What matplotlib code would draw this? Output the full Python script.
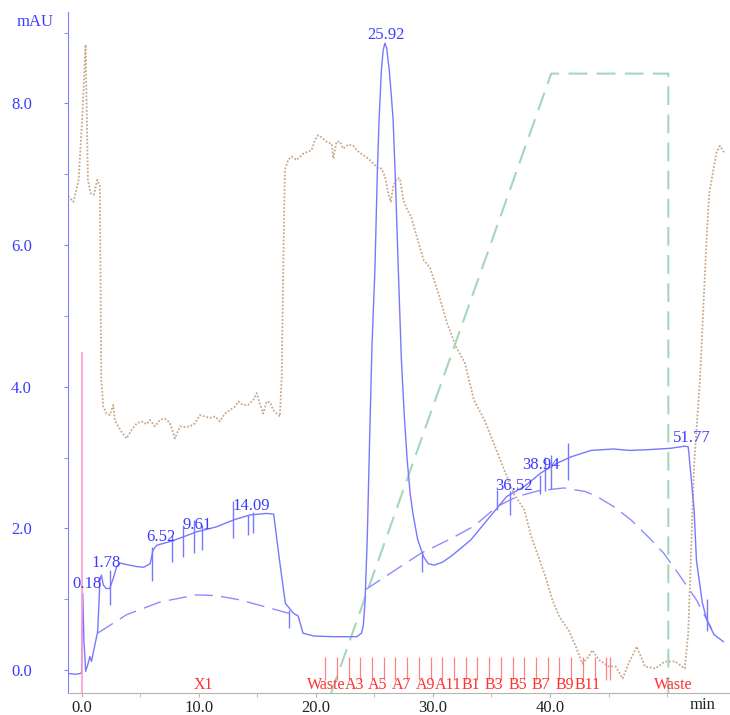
import numpy as np
import matplotlib
matplotlib.use("Agg")
import matplotlib.pyplot as plt

plt.rcParams['font.family'] = ['Liberation Serif', 'DejaVu Serif']

# UV trace (mAU)
uv_t = [-1.15, -0.5, -0.1, 0.0, 0.1, 0.2, 0.35, 0.57, 0.71, 0.85, 0.99, 1.22, 1.37, 1.5, 1.56,
        1.7, 1.85, 2.1, 2.4, 2.7, 3.0, 3.3, 3.8, 4.7, 5.3, 5.85, 6.1, 6.4, 7.5, 8.7, 9.8,
        11.5, 13.0, 14.4, 15.8, 16.4, 16.9, 17.4, 18.1, 18.5, 18.9, 19.8, 21.5, 23.5, 23.9,
        24.05, 24.2, 24.4, 24.6, 24.8, 25.05, 25.25, 25.4, 25.6, 25.75, 25.9, 26.05, 26.27,
        26.45, 26.6, 26.8, 27.04, 27.3, 27.55, 27.8, 28.05, 28.3, 28.7,
        29.2, 29.6, 30.1, 30.8, 31.5, 32.4, 33.25, 34.4, 35.5, 36.3, 37.8, 39.2, 40.6, 41.8,
        43.5, 45.4, 46.8, 48.3, 50.3, 51.5, 51.8, 52.0, 52.3, 52.5, 53.0, 53.4, 54.0, 54.8]
uv_v = [-0.05, -0.06, -0.05, -0.03, 1.08, 0.42, -0.02, 0.1, 0.19, 0.12, 0.24, 0.42, 0.54, 0.99, 1.27,
        1.34, 1.2, 1.15, 1.15, 1.29, 1.46, 1.51, 1.49, 1.46, 1.45, 1.50, 1.69, 1.76, 1.81, 1.88, 1.95,
        2.02, 2.12, 2.19, 2.21, 2.20, 1.55, 0.94, 0.80, 0.76, 0.52, 0.48, 0.47, 0.47, 0.52,
        0.62, 0.95, 1.9, 3.3, 4.6, 5.67, 7.0, 7.77, 8.47, 8.75, 8.85, 8.78, 8.47,
        8.1, 7.77, 6.9, 5.67, 4.41, 3.6, 2.97, 2.5, 2.2, 1.84,
        1.6, 1.5, 1.48, 1.52, 1.60, 1.72, 1.84, 2.07, 2.29, 2.45, 2.59, 2.78, 2.92, 3.01,
        3.10, 3.12, 3.10, 3.11, 3.13, 3.16, 3.15, 2.8, 2.26, 1.55, 0.95, 0.7, 0.5, 0.40]

# integration baselines
base1_t = [1.37, 3.84, 6.7, 9.8, 11.5, 13.5, 15.5, 17.7]
base1_v = [0.52, 0.78, 0.96, 1.06, 1.05, 0.99, 0.90, 0.80]
base2_t = [24.2, 26.5, 29.0, 31.5, 33.5, 35.5, 37.2, 39.0, 41.2, 43.0, 44.0, 45.5, 46.9, 48.5, 49.7, 51.0, 52.5, 53.8]
base2_v = [1.13, 1.38, 1.65, 1.85, 2.03, 2.31, 2.45, 2.53, 2.57, 2.52, 2.45, 2.30, 2.12, 1.86, 1.65, 1.35, 0.99, 0.58]

# conductivity trace
cond_t = [-1.15, -0.7, -0.25, 0.06, 0.34, 0.54, 0.77, 1.05, 1.34, 1.56, 1.68, 1.85, 2.13, 2.42,
          2.7, 2.84, 3.13, 3.42, 3.84, 4.27, 4.7, 5.12, 5.55, 5.83, 6.26, 6.69, 7.1, 7.54, 7.97,
          8.4, 8.82, 9.25, 9.68, 10.1, 10.5, 10.96, 11.4, 11.8, 12.24, 12.66, 13.1, 13.37, 13.8,
          14.2, 14.65, 14.95, 15.2, 15.5, 15.8, 16.1, 16.36, 16.65, 16.93, 17.08, 17.25, 17.36,
          17.64, 17.93, 18.36, 18.92, 19.64, 19.92, 20.2, 20.5, 20.9, 21.35, 21.49, 21.77, 22.06,
          22.34, 22.77, 23.2, 23.62, 24.05, 24.48, 24.9, 25.33, 25.6, 25.9, 26.18, 26.4, 26.6,
          26.9, 27.18, 27.46, 27.75, 28.18, 28.46, 29.2, 29.75, 30.5, 31.2, 32.0, 32.7, 33.5,
          34.4, 34.95, 36.1, 36.9, 37.8, 38.4, 38.9, 39.6, 40.2, 40.8, 41.6, 42.2, 42.75, 43.3,
          43.6, 44.2, 45.0, 45.6, 46.2, 46.7, 47.4, 48.1, 49.0, 49.8, 50.7, 51.5, 51.8, 52.3,
          52.8, 53.1, 53.4, 53.6, 54.2, 54.5, 54.9]
cond_v = [6.69, 6.61, 6.92, 7.81, 8.83, 6.92, 6.73, 6.71, 6.92, 6.83, 4.1, 3.72, 3.62, 3.6,
          3.74, 3.53, 3.44, 3.36, 3.27, 3.39, 3.48, 3.51, 3.47, 3.53, 3.44, 3.53, 3.55, 3.49, 3.27,
          3.44, 3.43, 3.44, 3.48, 3.6, 3.58, 3.56, 3.58, 3.51, 3.62, 3.67, 3.72, 3.79, 3.74,
          3.74, 3.81, 3.91, 3.77, 3.62, 3.79, 3.78, 3.67, 3.62, 3.58, 4.1, 6.0, 7.06,
          7.2, 7.25, 7.2, 7.29, 7.34, 7.48, 7.55, 7.52, 7.46, 7.43, 7.22, 7.46, 7.46,
          7.36, 7.42, 7.4, 7.32, 7.27, 7.22, 7.15, 7.08, 7.08, 6.97, 6.73, 6.61, 6.82,
          6.94, 6.94, 6.64, 6.52, 6.38, 6.21, 5.79, 5.68, 5.3, 4.9, 4.55, 4.35, 3.81,
          3.53, 3.30, 2.82, 2.49, 2.26, 1.88, 1.65, 1.32, 0.99, 0.75, 0.56, 0.33, 0.09, 0.19,
          0.28, 0.14, 0.05, 0.05, -0.12, 0.09, 0.33, 0.05, 0.02, 0.12, 0.12, 0.02, 0.52, 2.9,
          4.1, 5.16, 6.21, 6.74, 7.3, 7.4, 7.3]

# gradient
grad_t = [21.3, 40.1, 50.1, 50.1]
grad_v = [-0.33, 8.42, 8.42, -0.33]

# peak labels
peak_names = ["0.18", "1.78", "6.52", "9.61", "14.09", "25.92", "36.52", "38.94", "51.77"]
peak_lx = [0.48, 2.1, 6.8, 9.85, 14.45, 25.96, 36.9, 39.25, 52.1]
peak_ly = [1.21, 1.51, 1.88, 2.05, 2.32, 8.97, 2.6, 2.9, 3.27]

# peak marks
mark_x = [2.42, 5.98, 7.69, 8.62, 9.59, 10.3, 12.95, 14.2, 14.65, 17.7, 29.1, 35.5, 36.6, 39.1, 39.6, 40.05, 41.5, 53.4]
mark_lo = [0.92, 1.25, 1.53, 1.60, 1.65, 1.69, 1.86, 1.91, 1.93, 0.59, 1.39, 2.26, 2.19, 2.49, 2.52, 2.56, 2.68, 0.55]
mark_hi = [1.41, 1.74, 1.91, 2.05, 2.12, 2.05, 2.38, 2.19, 2.23, 0.85, 1.65, 2.54, 2.52, 2.75, 3.01, 3.04, 3.20, 1.00]

# fractions
frac_ticks = [20.8, 21.8, 22.8, 23.8, 24.8, 25.8, 26.8, 27.8, 28.8, 29.8, 30.8, 31.8, 32.8,
              33.8, 34.8, 35.8, 36.8, 37.8, 38.8, 39.8, 40.8, 41.8, 42.8, 43.8, 44.8, 45.15]
frac_names = ["X1", "Waste", "A3", "A5", "A7", "A9", "A11", "B1", "B3", "B5", "B7", "B9", "B11", "Waste"]
frac_lx = [10.4, 20.85, 23.3, 25.3, 27.3, 29.35, 31.3, 33.2, 35.2, 37.25, 39.2, 41.25, 43.2, 50.5]

blue = '#7878ff'
txt_blue = '#3c3cff'

fig = plt.figure(figsize=(7.3, 7.15), dpi=100)
ax = fig.add_axes([68 / 730, 22 / 715, 661 / 730, 681 / 715])

ax.plot(cond_t, cond_v, color='#c8a88a', lw=1.3, linestyle=(0, (1, 1)))
ax.plot(grad_t, grad_v, color='#a6d6bc', lw=1.5, linestyle=(0, (9, 4.5)))
ax.plot(base1_t, base1_v, color='#8c8cff', lw=1.0, linestyle=(0, (13, 6)))
ax.plot(base2_t, base2_v, color='#8c8cff', lw=1.0, linestyle=(0, (13, 6)))
ax.plot(uv_t, uv_v, color=blue, lw=1.0)
ax.vlines(mark_x, mark_lo, mark_hi, color=blue, lw=1.0)
ax.vlines([0.0], -0.33, 4.49, color='#ff99d6', lw=1.2)
ax.vlines(frac_ticks, -0.14, 0.19, color='#ff8080', lw=0.9)

for name, x, y in zip(peak_names, peak_lx, peak_ly):
    ax.text(x, y, name, color=txt_blue, fontsize=12, ha='center', va='center')
for name, x in zip(frac_names, frac_lx):
    ax.text(x, -0.21, name, color='#ff3030', fontsize=11.5, ha='center', va='center')

ax.set_xlim(-1.16, 55.28)
ax.set_ylim(-0.325, 9.29)
ax.set_xticks([0, 10, 20, 30, 40])
ax.set_xticklabels(["0.0", "10.0", "20.0", "30.0", "40.0"])
ax.set_xticks([5, 15, 25, 35, 45, 50], minor=True)
ax.set_yticks([0, 2, 4, 6, 8])
ax.set_yticklabels(["0.0", "2.0", "4.0", "6.0", "8.0"])
ax.set_yticks([1, 3, 5, 7, 9], minor=True)

for s in ['top', 'right']:
    ax.spines[s].set_visible(False)
ax.spines['left'].set_color('#8080ff')
ax.spines['bottom'].set_color('#b4b4b4')
ax.tick_params(axis='y', which='both', colors='#8080ff', labelcolor=txt_blue, length=3, labelsize=12, pad=23)
ax.tick_params(axis='x', which='both', colors='#b4b4b4', labelcolor='#222222', length=3, labelsize=12, pad=2)

fig.text(35 / 730, 1 - 22 / 715, "mAU", color=txt_blue, fontsize=12, ha='center', va='center')
fig.text(703 / 730, 1 - 705 / 715, "min", color='#222222', fontsize=12, ha='center', va='center')

fig.savefig("out.png", dpi=100)
